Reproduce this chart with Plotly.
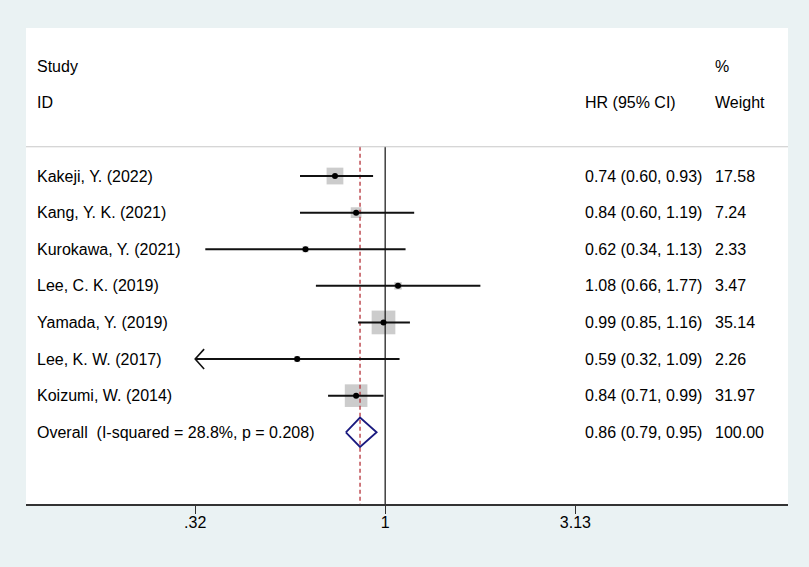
import math
import plotly.graph_objects as go

# --------------------- data ---------------------------------------
studies = ["Kakeji, Y. (2022)", "Kang, Y. K. (2021)", "Kurokawa, Y. (2021)",
           "Lee, C. K. (2019)", "Yamada, Y. (2019)", "Lee, K. W. (2017)",
           "Koizumi, W. (2014)"]
hr = [0.74, 0.84, 0.62, 1.08, 0.99, 0.59, 0.84]
ci_low = [0.60, 0.60, 0.34, 0.66, 0.85, 0.32, 0.71]
ci_high = [0.93, 1.19, 1.13, 1.77, 1.16, 1.09, 0.99]
weights = [17.58, 7.24, 2.33, 3.47, 35.14, 2.26, 31.97]

overall_label = "Overall\u00a0\u00a0(I-squared = 28.8%, p = 0.208)"
overall_hr = 0.86
overall_low = 0.79
overall_high = 0.95
overall_weight = 100.00

tick_vals = [0.32, 1, 3.13]
tick_text = [".32", "1", "3.13"]

# --------------------- geometry helpers ---------------------------
rows = list(range(1, len(studies) + 1))
overall_row = len(studies) + 1
sep_row = 0.2          # grey separator under the header
y_top = -3.044
y_bottom = 9.96
x_min = 0.116
x_max = 11.2

FONT = "Liberation Sans, Arial, sans-serif"
FS = 16

fig = go.Figure()

# weight boxes
fig.add_trace(go.Scatter(
    x=hr, y=rows, mode="markers",
    marker=dict(symbol="square", size=[4 * math.sqrt(w) for w in weights],
                color="#b6b6b6", line=dict(width=0)),
    hoverinfo="skip"))

# reference line at 1 and dashed overall line
fig.add_trace(go.Scatter(x=[1, 1], y=[sep_row, y_bottom], mode="lines",
                         line=dict(color="#222222", width=1.3), hoverinfo="skip"))
fig.add_trace(go.Scatter(x=[overall_hr, overall_hr], y=[sep_row, y_bottom], mode="lines",
                         line=dict(color="#b5333a", width=1.3, dash="4px,3px"),
                         hoverinfo="skip"))

# confidence intervals
ci_x, ci_y = [], []
for r, lo, hi in zip(rows, ci_low, ci_high):
    ci_x += [lo, hi, None]
    ci_y += [r, r, None]
fig.add_trace(go.Scatter(x=ci_x, y=ci_y, mode="lines",
                         line=dict(color="#111111", width=2), hoverinfo="skip"))

# arrows where CI runs past the lowest tick
ar_x, ar_y = [], []
for r, lo in zip(rows, ci_low):
    if lo <= tick_vals[0]:
        ar_x += [lo * 1.055, lo, lo * 1.055, None]
        ar_y += [r - 0.27, r, r + 0.27, None]
fig.add_trace(go.Scatter(x=ar_x, y=ar_y, mode="lines",
                         line=dict(color="#111111", width=1.6), hoverinfo="skip"))

# point estimates
fig.add_trace(go.Scatter(x=hr, y=rows, mode="markers",
                         marker=dict(symbol="circle", size=6, color="black"),
                         hoverinfo="skip"))

# overall diamond
fig.add_trace(go.Scatter(
    x=[overall_low, overall_hr, overall_high, overall_hr, overall_low],
    y=[overall_row, overall_row - 0.4, overall_row, overall_row + 0.4, overall_row],
    mode="lines", line=dict(color="#1a1a80", width=1.8), hoverinfo="skip"))

# --------------------- text columns --------------------------------
annotations = []
def txt(x, y, s):
    annotations.append(dict(x=x, y=y, xref="paper", yref="y", text=s,
                            showarrow=False, xanchor="left", yanchor="middle",
                            font=dict(family=FONT, size=FS, color="black")))

col_study, col_hr, col_w = 0.0118, 0.731, 0.9016
txt(col_study, -2.0, "Study")
txt(col_study, -1.0, "ID")
txt(col_hr, -1.0, "HR (95% CI)")
txt(col_w, -2.0, "%")
txt(col_w, -1.0, "Weight")

for r, s, h, lo, hi, w in zip(rows, studies, hr, ci_low, ci_high, weights):
    txt(col_study, r, s)
    txt(col_hr, r, f"{h:.2f} ({lo:.2f}, {hi:.2f})")
    txt(col_w, r, f"{w:.2f}")

txt(col_study, overall_row, overall_label)
txt(col_hr, overall_row, f"{overall_hr:.2f} ({overall_low:.2f}, {overall_high:.2f})")
txt(col_w, overall_row, f"{overall_weight:.2f}")

fig.update_layout(
    width=809, height=567,
    margin=dict(l=26, r=21, t=28, b=63),
    paper_bgcolor="#eaf2f3", plot_bgcolor="white",
    showlegend=False,
    annotations=annotations,
    shapes=[dict(type="line", xref="paper", yref="y", x0=0, x1=1,
                 y0=sep_row, y1=sep_row, line=dict(color="#c8c8c8", width=1.2))],
    xaxis=dict(type="log", range=[math.log10(x_min), math.log10(x_max)],
               tickvals=tick_vals, ticktext=tick_text,
               ticks="outside", ticklen=8, tickwidth=1.3, tickcolor="#333333",
               ticklabelstandoff=-5,
               showline=True, linecolor="#333333", linewidth=1.5,
               showgrid=False, zeroline=False,
               tickfont=dict(family=FONT, size=FS, color="black")),
    yaxis=dict(range=[y_bottom, y_top], visible=False, showgrid=False, zeroline=False),
)

fig.write_html("out.html", config={"displayModeBar": False},
               post_script="document.body.style.margin='0';document.body.style.overflow='hidden';")
